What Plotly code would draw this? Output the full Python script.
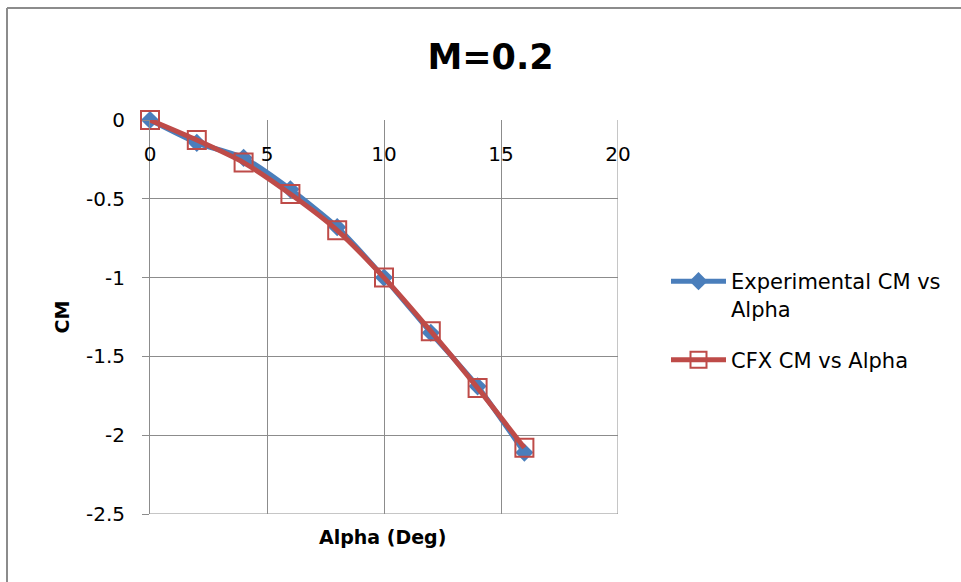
import plotly.graph_objects as go

alpha = [0, 2, 4, 6, 8, 10, 12, 14, 16]
cm_experimental = [0.0, -0.145, -0.24, -0.44, -0.68, -1.0, -1.35, -1.69, -2.11]
cm_cfx = [0.0, -0.127, -0.27, -0.47, -0.70, -1.0, -1.34, -1.70, -2.08]

x_ticks = [0, 5, 10, 15, 20]
y_ticks = [0, -0.5, -1, -1.5, -2, -2.5]
y_tick_labels = ["0", "-0.5", "-1", "-1.5", "-2", "-2.5"]

FONT = "DejaVu Sans"
GRID = "#8c8c8c"

fig = go.Figure()
fig.add_trace(go.Scatter(
    x=alpha, y=cm_experimental, mode="lines+markers",
    name="Experimental CM vs<br>Alpha", legendgroup="exp",
    line=dict(color="#4A7EBB", width=5, shape="spline", smoothing=0.6),
    marker=dict(symbol="diamond", size=14, color="#4A7EBB"),
    cliponaxis=False,
))
fig.add_trace(go.Scatter(
    x=alpha, y=cm_cfx, mode="lines+markers",
    name="CFX CM vs Alpha", legendgroup="cfx",
    line=dict(color="#BE4B48", width=5, shape="spline", smoothing=0.6),
    marker=dict(symbol="square-open", size=18, color="#BE4B48", line=dict(width=2, color="#BE4B48")),
    cliponaxis=False,
))

L, R, T, B = 150, 618, 120, 514
W, H = 961, 582

fig.update_layout(
    width=W, height=H,
    margin=dict(l=L, r=W - R, t=T, b=H - B),
    paper_bgcolor="white", plot_bgcolor="white",
    font=dict(family=FONT, size=20, color="#000000"),
    title=dict(text="<b>M=0.2</b>", x=490.5 / W, xanchor="center", yref="container", y=1 - 57 / H,
               yanchor="middle", font=dict(family=FONT, size=35, color="#000000")),
    showlegend=True,
    legend=dict(x=(666 - L) / (R - L), y=(B - 261) / (B - T), xanchor="left", yanchor="top",
                font=dict(family=FONT, size=21), itemwidth=55, traceorder="grouped",
                tracegroupgap=21, valign="top", bgcolor="rgba(0,0,0,0)"),
    xaxis=dict(range=[0, 20], tickvals=x_ticks, showgrid=True, gridcolor=GRID, gridwidth=1,
               anchor="free", position=1, side="bottom", showline=False, zeroline=False,
               ticks="outside", ticklen=16, tickcolor="rgba(0,0,0,0)",
               tickfont=dict(family=FONT, size=20)),
    yaxis=dict(range=[-2.5, 0], tickvals=y_ticks, ticktext=y_tick_labels, showgrid=True, gridcolor=GRID,
               gridwidth=1, showline=True, linecolor=GRID, linewidth=1, zeroline=False,
               ticks="outside", ticklen=7, tickcolor=GRID, ticklabelstandoff=13,
               tickfont=dict(family=FONT, size=20)),
)

# axis titles
fig.add_annotation(text="<b>Alpha (Deg)</b>", xref="paper", yref="paper",
                   x=(382.5 - L) / (R - L), y=(B - 537) / (B - T), xanchor="center", yanchor="middle",
                   showarrow=False, font=dict(family=FONT, size=19, color="#000000"))
fig.add_annotation(text="<b>CM</b>", xref="paper", yref="paper", textangle=-90,
                   x=(61 - L) / (R - L), y=(B - 317.5) / (B - T), xanchor="center", yanchor="middle",
                   showarrow=False, font=dict(family=FONT, size=19, color="#000000"))

# plot-area edges at x=20 and y=-2.5
fig.add_shape(type="line", xref="x", yref="paper", x0=20, x1=20, y0=0, y1=1,
              line=dict(color=GRID, width=1), layer="below")
fig.add_shape(type="line", xref="paper", yref="y", x0=0, x1=1, y0=-2.5, y1=-2.5,
              line=dict(color=GRID, width=1), layer="below")

# chart frame (top and left edges visible)
fx0 = (7 - L) / (R - L)
fy0 = (B - 8) / (B - T)
fig.add_shape(type="line", xref="paper", yref="paper", x0=fx0, x1=(W + 5 - L) / (R - L), y0=fy0, y1=fy0,
              line=dict(color="#8c8c8c", width=2))
fig.add_shape(type="line", xref="paper", yref="paper", x0=fx0, x1=fx0, y0=fy0, y1=(B - H - 5) / (B - T),
              line=dict(color="#8c8c8c", width=2))

fig.write_html("out.html")
